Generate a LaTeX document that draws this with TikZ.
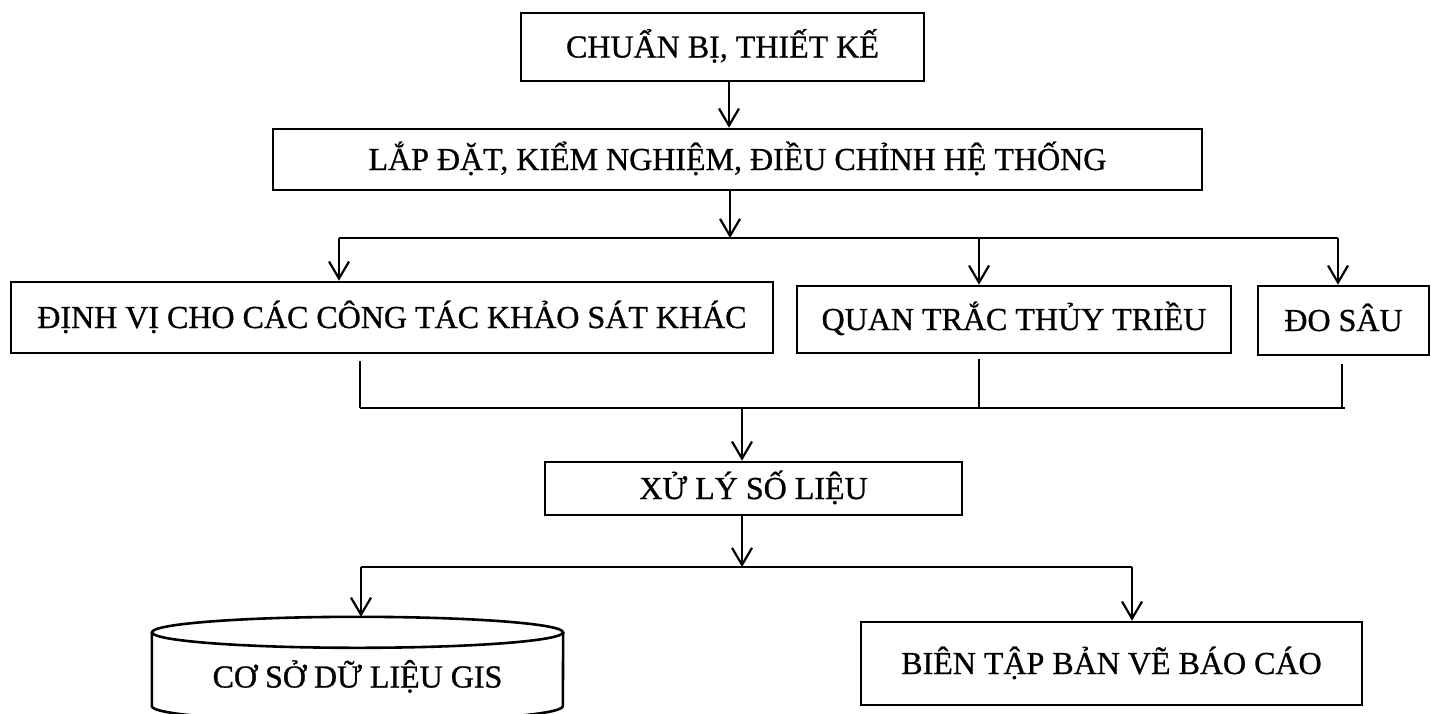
\documentclass[tikz,border=0pt]{standalone}
\usepackage{fontspec}
\setmainfont{Liberation Serif}[FakeBold=0.8]
\usetikzlibrary{arrows.meta}

\begin{document}
\begin{tikzpicture}[x=1pt,y=-1pt,
  every node/.style={font=\fontsize{32}{36}\selectfont, text height=21pt, text depth=0pt, inner sep=0pt},
  stepbox/.style={draw, line width=2.6pt, rectangle},
  link/.style={line width=2.4pt},
  arr/.style={link, -{Straight Barb[length=17pt,width=20pt,line width=2.2pt]}}
]
\useasboundingbox (0,0) rectangle (1431,713);
\fill[white] (0,0) rectangle (1431,713);

% process boxes
\node[stepbox, minimum width=403pt, minimum height=68pt] (prep) at (722.5,47) {CHUẨN BỊ, THIẾT KẾ};
\node[stepbox, minimum width=929pt, minimum height=61pt] (setup) at (737.5,159.5) {LẮP ĐẶT, KIỂM NGHIỆM, ĐIỀU CHỈNH HỆ THỐNG};
\node[stepbox, minimum width=762pt, minimum height=71pt] (pos) at (392,317.5) {ĐỊNH VỊ CHO CÁC CÔNG TÁC KHẢO SÁT KHÁC};
\node[stepbox, minimum width=434pt, minimum height=67pt] (tide) at (1014,319.5) {QUAN TRẮC THỦY TRIỀU};
\node[stepbox, minimum width=171pt, minimum height=69pt] (depth) at (1343.5,320.5) {ĐO SÂU};
\node[stepbox, minimum width=417pt, minimum height=53pt] (proc) at (753.5,488.5) {XỬ LÝ SỐ LIỆU};
\node[stepbox, minimum width=501pt, minimum height=83pt] (report) at (1111.5,663.5) {BIÊN TẬP BẢN VẼ BÁO CÁO};

% database cylinder
\node[minimum width=411pt, minimum height=120pt] (gis) at (357.5,677) {CƠ SỞ DỮ LIỆU GIS};
\draw[line width=2.6pt]
  ([yshift=-15.5pt]gis.north west) -- ([yshift=31pt]gis.south west)
  arc[start angle=180, end angle=360, x radius=205.5pt, y radius=15.5pt]
  -- ([yshift=-15.5pt]gis.north east);
\draw[line width=2.6pt] ([yshift=-15.5pt]gis.north) ellipse[x radius=205.5pt, y radius=15.5pt];

% splitting bus
\coordinate (busA) at (730,238);
\coordinate (busAL) at (339,238);
\coordinate (busAR) at (1338,238);
% joining bus
\coordinate (busB) at (742,408);
\coordinate (busBL) at (360,408);
\coordinate (busBR) at (1345,408);
% output bus
\coordinate (busC) at (742,567);
\coordinate (busCL) at (361,567);
\coordinate (busCR) at (1132,567);

\draw[arr] ([xshift=6.5pt]prep.south) -- ([xshift=6.5pt]prep.south |- setup.north);
\draw[arr] (setup.south -| busA) -- (busA);
\draw[link] (busAL) -- (busAR);
\draw[arr] (busAL) -- (busAL |- pos.north);
\draw[arr] ([xshift=-35pt]tide.north |- busA) -- ([xshift=-35pt]tide.north);
\draw[arr] (busAR) -- (busAR |- depth.north);

\draw[link] ([yshift=-7pt]pos.south -| busBL) -- (busBL);
\draw[link] ([yshift=-5pt, xshift=-35pt]tide.south) -- ([xshift=-35pt]tide.south |- busB);
\draw[link] ([yshift=-8pt]depth.south -| 1342,0) -- (busB -| 1342,0);
\draw[link] (busBL) -- (busBR);
\draw[arr] (busB) -- (busB |- proc.north);

\draw[arr] (proc.south -| busC) -- (busC);
\draw[link] (busCL) -- (busCR);
\draw[arr] (busCL) -- (busCL |- gis.north);
\draw[arr] (busCR) -- (busCR |- report.north);
\end{tikzpicture}
\end{document}
